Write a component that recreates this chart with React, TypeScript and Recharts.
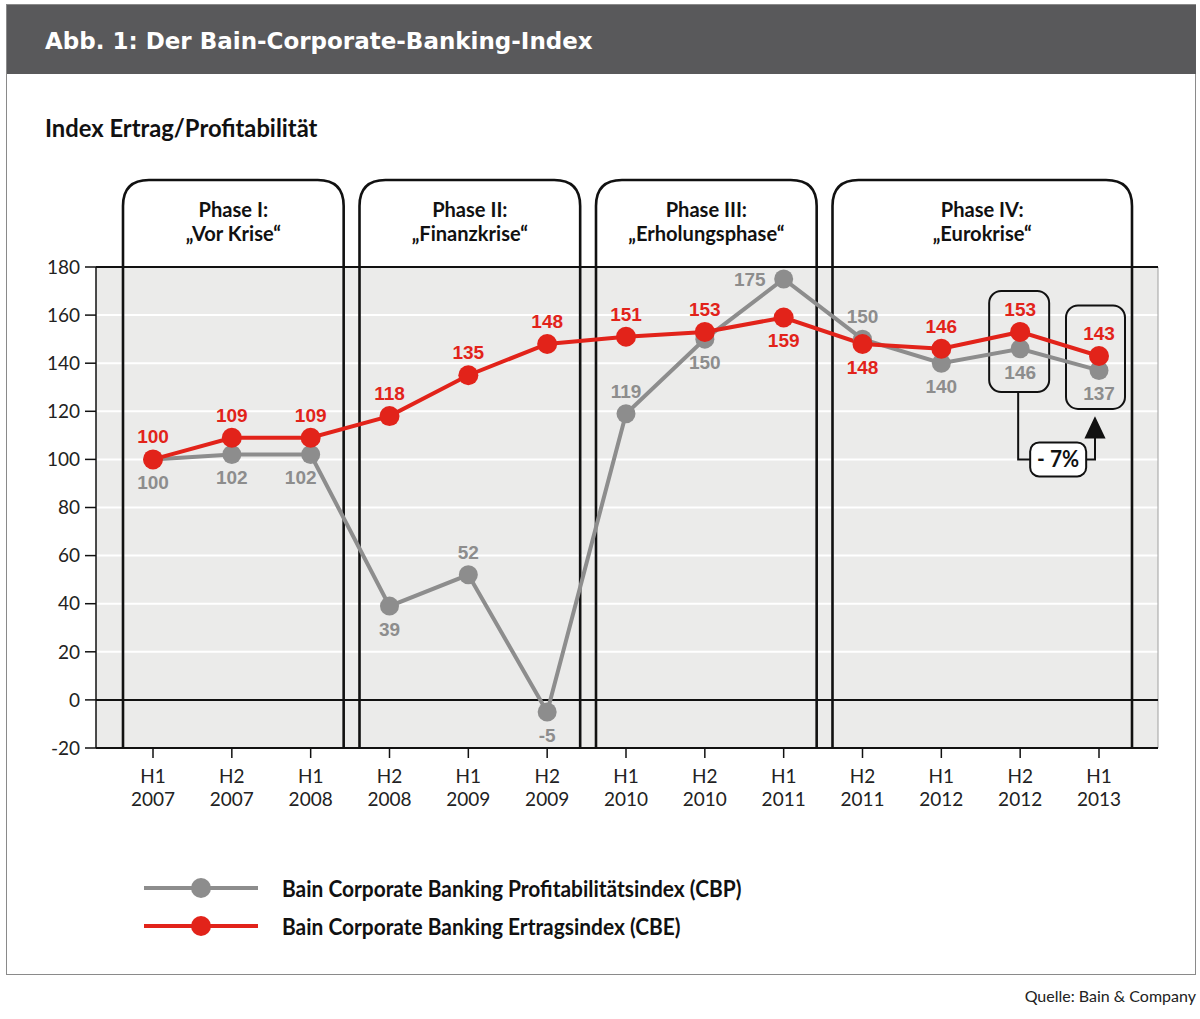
import {
  CartesianGrid,
  LabelList,
  Line,
  LineChart,
  ReferenceArea,
  ReferenceLine,
  XAxis,
  YAxis,
} from 'recharts';

const periods = [
  'H1 2007', 'H2 2007', 'H1 2008', 'H2 2008', 'H1 2009', 'H2 2009', 'H1 2010',
  'H2 2010', 'H1 2011', 'H2 2011', 'H1 2012', 'H2 2012', 'H1 2013',
];
const cbeValues = [100, 109, 109, 118, 135, 148, 151, 153, 159, 148, 146, 153, 143];
const cbpValues = [100, 102, 102, 39, 52, -5, 119, 150, 175, 150, 140, 146, 137];
const yTicks = [-20, 0, 20, 40, 60, 80, 100, 120, 140, 160, 180];

const phases = [
  { title: 'Phase I:', name: '„Vor Krise“', from: 'H1 2007', to: 'H1 2008' },
  { title: 'Phase II:', name: '„Finanzkrise“', from: 'H2 2008', to: 'H2 2009' },
  { title: 'Phase III:', name: '„Erholungsphase“', from: 'H1 2010', to: 'H1 2011' },
  { title: 'Phase IV:', name: '„Eurokrise“', from: 'H2 2011', to: 'H1 2013' },
];

const cbeName = 'Bain Corporate Banking Ertragsindex (CBE)';
const cbpName = 'Bain Corporate Banking Profitabilitätsindex (CBP)';
const changeLabel = '- 7%';

// where each value label sits relative to its point
const cbeLabelSide = ['top', 'top', 'top', 'top', 'top', 'top', 'top', 'top', 'bottom', 'bottom', 'top', 'top', 'top'];
const cbpLabelSide = ['bottom', 'bottom', 'bottomleft', 'bottom', 'top', 'bottom', 'top', 'bottom', 'left', 'top', 'bottom', 'bottom', 'bottom'];

const data = periods.map((period, i) => ({ period, cbe: cbeValues[i], cbp: cbpValues[i] }));

const RED = '#e2231a';
const GRAY = '#8d8d8d';
const boldFont = 'Lato, "Noto Sans", sans-serif';
const plain = 'Lato, "Noto Sans", sans-serif';
const labelFont = '"Liberation Sans", Arial, sans-serif';
const SQUEEZE = 0.95; // the original uses a condensed face

const Y_MIN = -20;
const Y_MAX = 180;

const makeLabel = (sides: string[], color: string) => (props: any) => {
  const { x, y, value, index } = props;
  const side = sides[index];
  let lx = x;
  let ly = y;
  let anchor = 'middle';
  if (side === 'top') ly = y - 23;
  else if (side === 'bottom') ly = y + 23;
  else if (side === 'bottomleft') {
    ly = y + 23;
    lx = x - 10;
  } else {
    lx = x - 18;
    anchor = 'end';
  }
  return (
    <text
      x={lx}
      y={ly}
      dy="0.36em"
      textAnchor={anchor}
      fill={color}
      fontSize={19}
      fontWeight="bold"
      fontFamily={labelFont}
    >
      {value}
    </text>
  );
};

const NarrowText = ({ x, y, children, size = 19, squeeze = SQUEEZE }: any) => (
  <text
    transform={`translate(${x},${y}) scale(${squeeze},1)`}
    textAnchor="middle"
    fontSize={size}
    fontWeight="bold"
    fontFamily={boldFont}
    fill="#111"
    stroke="none"
  >
    {children}
  </text>
);

const PhaseBox = (props: any) => {
  const { x, y, width, height, title, name } = props;
  const left = x - 30;
  const right = x + width + 33;
  const top = y - 87;
  const bottom = y + height;
  const r = 26;
  const d = `M${left},${bottom} L${left},${top + r} Q${left},${top} ${left + r},${top} L${right - r},${top} Q${right},${top} ${right},${top + r} L${right},${bottom}`;
  const cx = (left + right) / 2;
  return (
    <g>
      <path d={d} fill="none" stroke="#111" strokeWidth={2.6} />
      <NarrowText x={cx} y={top + 37} size={20.5} squeeze={0.98}>{title}</NarrowText>
      <NarrowText x={cx} y={top + 61} size={20.5} squeeze={0.98}>{name}</NarrowText>
    </g>
  );
};

const ChangeAnnotation = (props: any) => {
  const { x, y, width, height } = props;
  const vy = (v: number) => y + ((Y_MAX - v) / (Y_MAX - Y_MIN)) * height;
  const x1 = x;
  const x2 = x + width;
  const lineY = vy(100);
  const tipY = vy(117);
  return (
    <g fill="none" stroke="#111" strokeWidth={2}>
      <rect x={x1 - 31} y={vy(170)} width={60} height={vy(128) - vy(170)} rx={12} />
      <rect x={x2 - 33} y={vy(164)} width={59} height={vy(121) - vy(164)} rx={12} />
      <path d={`M${x1 - 2},${vy(128)} V${lineY} H${x1 + 10}`} />
      <path d={`M${x1 + 66},${lineY} H${x2 - 4} V${tipY + 16}`} />
      <path d={`M${x2 - 4},${tipY} L${x2 - 13},${tipY + 19} L${x2 + 5},${tipY + 19} Z`} fill="#111" />
      <rect x={x1 + 10} y={lineY - 17} width={56} height={34} rx={9} fill="#fff" />
      <NarrowText x={x1 + 38} y={lineY + 8} size={22}>{changeLabel}</NarrowText>
    </g>
  );
};

const PeriodTick = (props: any) => {
  const { x, y, payload } = props;
  const [half, year] = String(payload.value).split(' ');
  return (
    <g>
      <text x={x} y={y + 23} textAnchor="middle" fontSize={19} fontFamily={plain} fill="#222">
        {half}
      </text>
      <text x={x} y={y + 46} textAnchor="middle" fontSize={19} fontFamily={plain} fill="#222">
        {year}
      </text>
    </g>
  );
};

const narrowHtml = {
  display: 'inline-block',
  fontFamily: boldFont,
  fontWeight: 'bold' as const,
  transform: `scaleX(${SQUEEZE})`,
  transformOrigin: 'left center',
  whiteSpace: 'nowrap' as const,
};

function LegendRow({ color, label }: { color: string; label: string }) {
  return (
    <div style={{ display: 'flex', alignItems: 'center', height: 38 }}>
      <svg width={138} height={24} style={{ marginLeft: 144 }}>
        <line x1={0} y1={12} x2={114} y2={12} stroke={color} strokeWidth={4} />
        <circle cx={57} cy={12} r={10} fill={color} />
      </svg>
      <span style={{ ...narrowHtml, fontSize: 22, color: '#111' }}>{label}</span>
    </div>
  );
}

export default function App() {
  return (
    <div style={{ position: 'relative', width: 1200, height: 1019, background: '#fff' }}>
      <style>{'body{margin:0}'}</style>
      <div
        style={{
          position: 'absolute',
          left: 6,
          top: 4,
          width: 1188,
          height: 969,
          border: '1.5px solid #8a8a8a',
        }}
      />
      <div
        style={{
          position: 'absolute',
          left: 7,
          top: 5,
          width: 1189,
          height: 69,
          background: '#59595b',
          color: '#fff',
          fontFamily: '"DejaVu Sans", sans-serif',
          fontWeight: 'bold',
          fontSize: 23,
          lineHeight: '72px',
          paddingLeft: 38,
          boxSizing: 'border-box',
        }}
      >
        Abb. 1: Der Bain-Corporate-Banking-Index
      </div>
      <div style={{ position: 'absolute', left: 45, top: 112 }}>
        <span style={{ ...narrowHtml, fontSize: 25, color: '#111' }}>Index Ertrag/Profitabilität</span>
      </div>
      <div style={{ position: 'absolute', left: 0, top: 0 }}>
        <LineChart width={1200} height={820} data={data} margin={{ top: 267, right: 42, bottom: 0, left: 36 }}>
          <CartesianGrid vertical={false} stroke="#fff" strokeWidth={2} fill="#ebebea" fillOpacity={1} />
          <CartesianGrid
            horizontal={false}
            stroke="#a0a0a0"
            strokeWidth={1}
            verticalCoordinatesGenerator={({ offset }: any) => [offset.left + offset.width]}
          />
          <ReferenceLine y={0} stroke="#111" strokeWidth={2} />
          <ReferenceLine y={180} stroke="#111" strokeWidth={2} />
          {phases.map(p => (
            <ReferenceArea
              key={p.title}
              x1={p.from}
              x2={p.to}
              y1={Y_MIN}
              y2={Y_MAX}
              shape={(props: any) => <PhaseBox {...props} title={p.title} name={p.name} />}
            />
          ))}
          <XAxis
            dataKey="period"
            height={72}
            padding={{ left: 57, right: 59 }}
            interval={0}
            tickSize={10}
            tickLine={{ stroke: '#111', strokeWidth: 1.5 }}
            axisLine={{ stroke: '#111', strokeWidth: 2 }}
            tick={<PeriodTick />}
          />
          <YAxis
            domain={[Y_MIN, Y_MAX]}
            ticks={yTicks}
            interval={0}
            width={60}
            tickSize={11}
            tickMargin={5}
            tickLine={{ stroke: '#111', strokeWidth: 1.5 }}
            axisLine={{ stroke: '#111', strokeWidth: 1.5 }}
            tick={{ fontSize: 19, fontFamily: plain, fill: '#222' }}
          />
          <Line
            dataKey="cbp"
            name={cbpName}
            stroke={GRAY}
            strokeWidth={4}
            dot={{ r: 9.5, fill: GRAY, stroke: 'none' }}
            isAnimationActive={false}
          >
            <LabelList dataKey="cbp" content={makeLabel(cbpLabelSide, GRAY)} />
          </Line>
          <Line
            dataKey="cbe"
            name={cbeName}
            stroke={RED}
            strokeWidth={4}
            dot={{ r: 10, fill: RED, stroke: 'none' }}
            isAnimationActive={false}
          >
            <LabelList dataKey="cbe" content={makeLabel(cbeLabelSide, RED)} />
          </Line>
          <ReferenceArea x1="H2 2012" x2="H1 2013" y1={Y_MIN} y2={Y_MAX} shape={<ChangeAnnotation />} />
        </LineChart>
      </div>
      <div style={{ position: 'absolute', left: 0, top: 869 }}>
        <LegendRow color={GRAY} label={cbpName} />
        <LegendRow color={RED} label={cbeName} />
      </div>
      <div
        style={{
          position: 'absolute',
          right: 4,
          top: 986,
          fontFamily: plain,
          fontSize: 16,
          color: '#222',
        }}
      >
        Quelle: Bain &amp; Company
      </div>
    </div>
  );
}
